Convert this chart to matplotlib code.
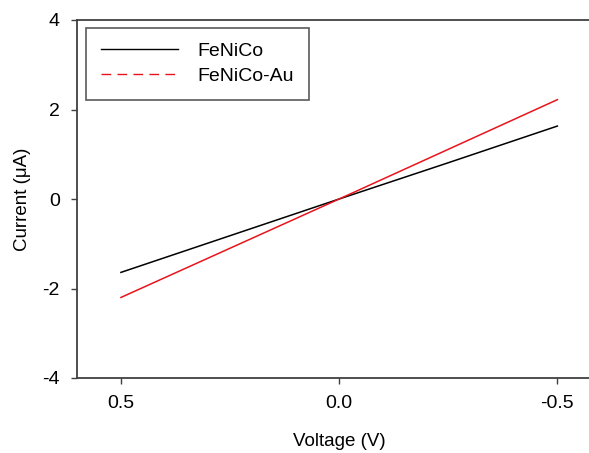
import matplotlib
matplotlib.use("Agg")
import matplotlib.pyplot as plt
from matplotlib.lines import Line2D

plt.rcParams['font.family'] = ['Liberation Sans', 'DejaVu Sans']
plt.rcParams['axes.unicode_minus'] = False

voltage = [0.5, 0.25, 0.0, -0.25, -0.5]
current_fenico = [-1.64, -0.82, 0.0, 0.81, 1.63]
current_fenico_au = [-2.20, -1.10, 0.0, 1.11, 2.22]
xticks = [0.5, 0.0, -0.5]
xtick_labels = ["0.5", "0.0", "-0.5"]
yticks = [-4, -2, 0, 2, 4]
series_names = ["FeNiCo", "FeNiCo-Au"]

W, H = 589, 453
fig = plt.figure(figsize=(W / 100, H / 100), dpi=100)
left, right, bottom, top = 77.3, 601, 378, 20
ax = fig.add_axes([left / W, 1 - bottom / H, (right - left) / W, (bottom - top) / H])

ax.plot(voltage, current_fenico, color="black", lw=1.1)
ax.plot(voltage, current_fenico_au, color="#e8141c", lw=1.1)

ax.set_xlim(0.6, -0.6)
ax.set_ylim(-4, 4)
ax.set_xticks(xticks)
ax.set_xticklabels(xtick_labels)
ax.set_yticks(yticks)

for s in ax.spines.values():
    s.set_color("#404040")
    s.set_linewidth(1.3)

ax.tick_params(axis="both", direction="out", length=4.5, width=1.0, color="#404040",
               labelsize=14, labelcolor="black")
ax.tick_params(axis="x", pad=8)
ax.tick_params(axis="y", pad=8)

ax.set_xlabel("Voltage (V)", fontsize=13.5, labelpad=15)
ax.set_ylabel("Current (μA)", fontsize=13.5, labelpad=8)

handles = [Line2D([], [], color="black", lw=1.0),
           Line2D([], [], color="#e8141c", lw=1.0, dashes=(7, 4.5))]
leg = fig.legend(handles, series_names, loc="upper left",
                 bbox_to_anchor=(86 / W, 1 - 28 / H), borderaxespad=0,
                 fontsize=14, frameon=True, fancybox=False, handlelength=4.0,
                 handletextpad=1.0, borderpad=0.75, labelspacing=0.38)
leg.get_frame().set_edgecolor("#303030")
leg.get_frame().set_linewidth(1.2)

fig.savefig("out.png", dpi=100)
